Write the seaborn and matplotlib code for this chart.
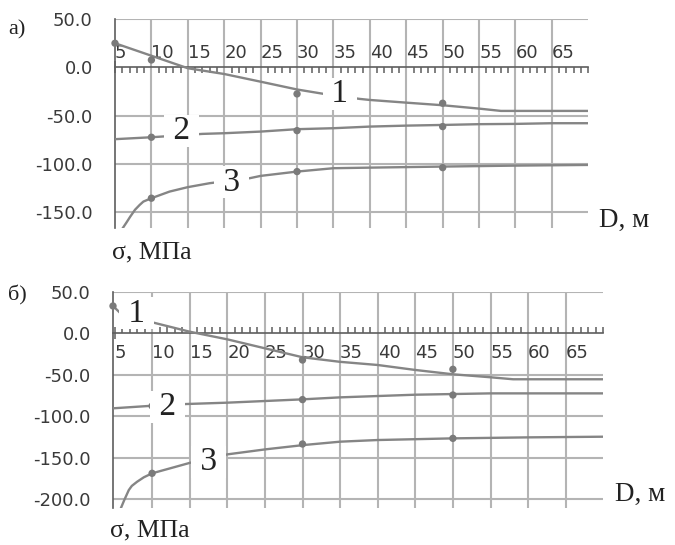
import matplotlib
matplotlib.use("Agg")
import matplotlib.pyplot as plt
import seaborn as sns
from matplotlib.ticker import MultipleLocator, FixedLocator, FormatStrFormatter

sns.set_style("white")
plt.rcParams['axes.unicode_minus'] = False

# ---- панель а) ----
xa1 = [5, 10, 15, 20, 25, 30, 34, 38.6, 40, 45, 50, 55, 58, 60, 65, 70]
ya1 = [25.2, 12.2, -0.8, -6.8, -14.8, -22.9, -27.9, -32.7, -33.8, -36.6, -39.3, -42.8, -45.2, -45.2, -45.2, -45.2]
xa2 = [5, 10, 17, 20, 25, 30, 35, 40, 45, 50, 55, 60, 65, 70]
ya2 = [-74.6, -72.6, -69.1, -68.4, -66.7, -64.2, -63.2, -61.5, -60.5, -59.8, -59.0, -58.7, -58.0, -58.0]
xa3 = [5.9, 6.6, 7.1, 7.75, 8.4, 8.9, 10, 12.5, 15, 18, 23.5, 25, 30, 35, 40, 50, 60, 70]
ya3 = [-169, -161, -155.1, -148, -142.9, -139.5, -136, -129.1, -124.5, -120.4, -115.2, -112.8, -108.3, -104.8, -104.2, -103.1, -102.1, -101.4]

ma1_x, ma1_y = [5, 10, 30, 50], [25.2, 7.8, -27.5, -37.2]
ma2_x, ma2_y = [10, 30, 50], [-72.6, -65.7, -61.5]
ma3_x, ma3_y = [10, 30, 50], [-136, -108.3, -104.2]

# ---- панель б) ----
xb1 = [4.8, 5.8, 10.2, 15, 20, 25, 30, 35, 40, 45, 50, 55, 58, 60, 65, 70]
yb1 = [32.8, 24, 12.7, 1.8, -7.4, -18.2, -29, -34.5, -38.3, -44.3, -49.5, -53.1, -55.5, -55.5, -55.5, -55.5]
xb2 = [4.8, 9.5, 14.6, 20, 25, 30, 35, 40, 45, 50, 55, 60, 70]
yb2 = [-90.5, -87.7, -85.3, -83.7, -81.7, -79.7, -77.3, -75.7, -74.1, -73.3, -72.5, -72.5, -72.5]
xb3 = [5.7, 6.3, 6.9, 7.3, 8, 8.9, 10, 12.4, 15.1, 18.6, 20, 25.1, 30.2, 35, 40, 50, 60, 70]
yb3 = [-214, -201, -189, -184, -179, -173.6, -168.8, -162.8, -156, -148.8, -146, -139.9, -134.7, -130.7, -128.7, -126.7, -125.5, -124.7]

mb1_x, mb1_y = [4.8, 30, 50], [32.8, -32.3, -43.5]
mb2_x, mb2_y = [10, 30, 50], [-87.7, -80, -74.5]
mb3_x, mb3_y = [10, 30, 50], [-168.8, -133.5, -126.7]

x_major = list(range(5, 70, 5))
yticks_a = [50, 0, -50, -100, -150]
yticks_b = [50, 0, -50, -100, -150, -200]

# подписи кривых: (текст, x, y)
labels_a = [("1", 35.9, -27.5), ("2", 14.1, -66.3), ("3", 21.0, -119.5)]
labels_b = [("1", 7.9, 24), ("2", 12.1, -89), ("3", 17.5, -155)]

LINE = '#858585'
MARK = '#7a7a7a'
GRID = '#b4b4b4'
AXIS = '#5e5e5e'
TXT = '#3a3a3a'
W, H = 675, 545

fig = plt.figure(figsize=(W / 100, H / 100), dpi=100)
ax_a = fig.add_axes([115 / W, 1 - 228 / H, 473.3 / W, (228 - 19.4) / H])
ax_b = fig.add_axes([113 / W, 1 - 508 / H, 490.3 / W, (508 - 291.7) / H])


def style(ax, xlim, ylim, yticks, labels_above):
    ax.set_xlim(*xlim)
    ax.set_ylim(*ylim)
    ax.xaxis.set_major_locator(FixedLocator(x_major))
    ax.xaxis.set_minor_locator(MultipleLocator(1))
    ax.yaxis.set_major_locator(FixedLocator(yticks))
    ax.yaxis.set_minor_locator(MultipleLocator(10))
    ax.yaxis.set_major_formatter(FormatStrFormatter('%.1f'))
    ax.spines['right'].set_visible(False)
    ax.spines['left'].set_color(AXIS)
    ax.spines['left'].set_linewidth(1.2)
    if labels_above:
        ax.spines['bottom'].set_visible(False)
        ax.spines['top'].set_position(('data', 0))
        ax.spines['top'].set_color(AXIS)
        ax.spines['top'].set_linewidth(1.2)
        ax.xaxis.set_ticks_position('top')
        ax.tick_params(axis='x', which='both', labeltop=True, labelbottom=False)
        ax.tick_params(axis='x', which='major', direction='inout', length=8, pad=0)
        ax.tick_params(axis='x', which='minor', direction='in', length=4)
    else:
        ax.spines['top'].set_visible(False)
        ax.spines['bottom'].set_position(('data', 0))
        ax.spines['bottom'].set_color(AXIS)
        ax.spines['bottom'].set_linewidth(1.2)
        ax.xaxis.set_ticks_position('bottom')
        ax.tick_params(axis='x', which='major', direction='inout', length=8, pad=4)
        ax.tick_params(axis='x', which='minor', direction='in', length=4)
    ax.tick_params(axis='both', which='both', color=AXIS, width=1.1, labelsize=13, labelcolor=TXT)
    ax.tick_params(axis='y', which='major', direction='out', length=6, pad=10)
    ax.tick_params(axis='y', which='minor', direction='out', length=4)
    ax.set_xlabel('')
    ax.set_ylabel('')
    for t in ax.get_xticklabels():
        t.set_horizontalalignment('left')
    # сетка
    ax.grid(False)
    for gx in x_major[1:]:
        ax.axvline(gx, color=GRID, linewidth=1.5, zorder=1.5)
    for gy in yticks:
        if gy != 0:
            ax.axhline(gy, color=GRID, linewidth=1.5, zorder=1.5)


def draw(ax, curves, marks, labels):
    for xs, ys in curves:
        sns.lineplot(x=xs, y=ys, ax=ax, color=LINE, linewidth=1.7, estimator=None, zorder=3)
    for xs, ys in marks:
        sns.scatterplot(x=xs, y=ys, ax=ax, color=MARK, s=28, edgecolor='none', zorder=4, clip_on=False)
    for txt, x, y in labels:
        ax.text(x, y, ' ' + txt + ' ', fontsize=24, family='Liberation Serif', color='#222222',
                ha='center', va='center', zorder=5,
                bbox=dict(boxstyle='square,pad=0.02', facecolor='white', edgecolor='none'))


draw(ax_a, [(xa1, ya1), (xa2, ya2), (xa3, ya3)],
     [(ma1_x, ma1_y), (ma2_x, ma2_y), (ma3_x, ma3_y)], labels_a)
draw(ax_b, [(xb1, yb1), (xb2, yb2), (xb3, yb3)],
     [(mb1_x, mb1_y), (mb2_x, mb2_y), (mb3_x, mb3_y)], labels_b)

style(ax_a, (5, 70), (-167, 50), yticks_a, True)
style(ax_b, (4.8, 70), (-210.6, 50), yticks_b, False)

serif = 'Liberation Serif'
fig.text(8 / W, 1 - 30 / H, 'а)', fontsize=16, family=serif, color='#222222', va='center')
fig.text(8 / W, 1 - 295 / H, 'б)', fontsize=16, family=serif, color='#222222', va='center')
fig.text(112 / W, 1 - 252 / H, 'σ, МПа', fontsize=18.5, family=serif, color='#222222', va='center')
fig.text(110 / W, 1 - 530 / H, 'σ, МПа', fontsize=18.5, family=serif, color='#222222', va='center')
fig.text(599 / W, 1 - 220 / H, 'D, м', fontsize=19.5, family=serif, color='#222222', va='center')
fig.text(615 / W, 1 - 494 / H, 'D, м', fontsize=19.5, family=serif, color='#222222', va='center')

fig.savefig('out.png', dpi=100)
